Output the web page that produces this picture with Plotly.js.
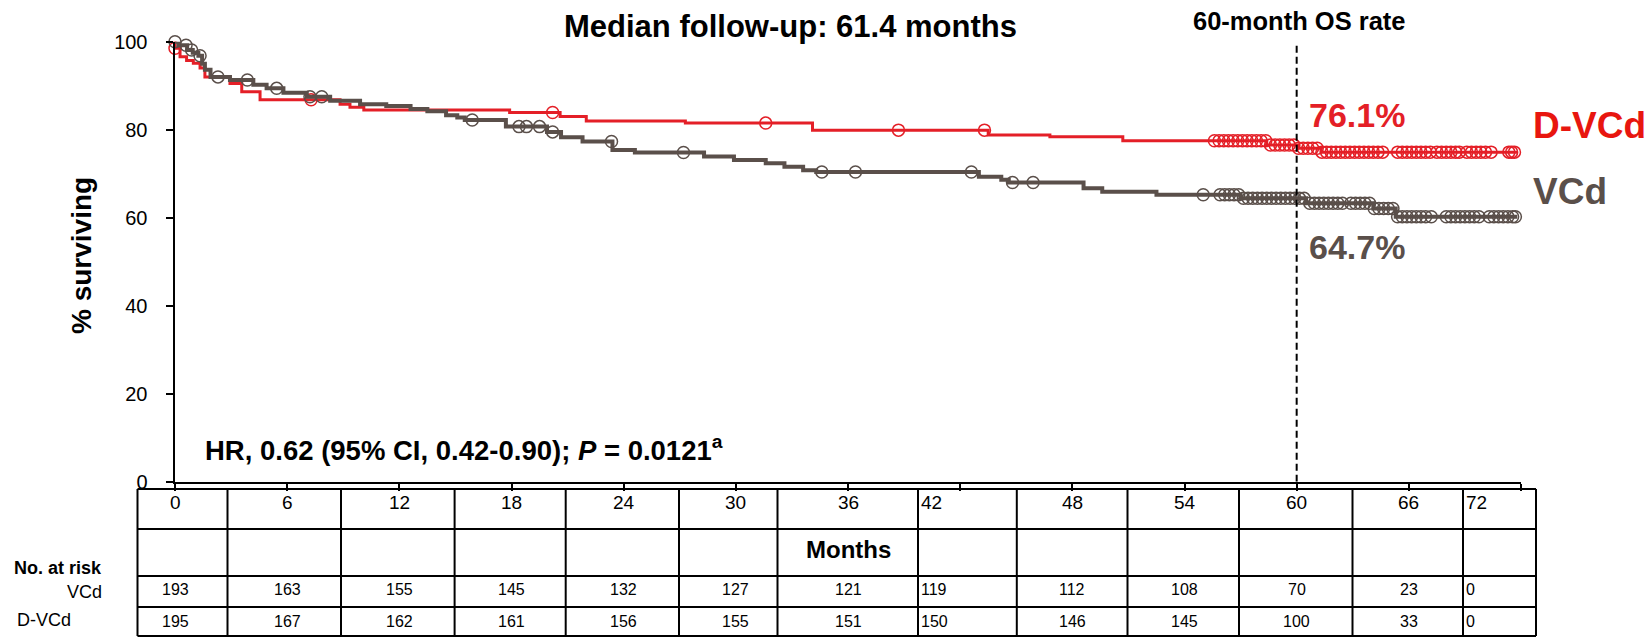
<!DOCTYPE html>
<html>
<head>
<meta charset="utf-8">
<script src="https://cdn.plot.ly/plotly-3.0.1.min.js"></script>
<style>
  html, body { margin: 0; padding: 0; background: #fff; }
  #chart { width: 1651px; height: 637px; }
</style>
</head>
<body>
<div id="chart"></div>
<script>
// ---------------- DATA ----------------
const months = [0, 6, 12, 18, 24, 30, 36, 42, 48, 54, 60, 66, 72];
const atRiskVCd = [193, 163, 155, 145, 132, 127, 121, 119, 112, 108, 70, 23, 0];
const atRiskDVCd = [195, 167, 162, 161, 156, 155, 151, 150, 146, 145, 100, 33, 0];

// VCd Kaplan-Meier steps (event time in months, % surviving after the step)
const vcdTimes = [0.18, 0.65, 0.95, 1.25, 1.45, 1.6, 1.9, 2.94, 4.19, 4.9, 5.8, 7.05, 8.3, 9.9, 11.3, 12.6, 13.5, 14.5, 15.1, 15.5, 17.7, 19.9, 20.65, 21.8, 23.4, 24.6, 28.3, 29.9, 31.6, 32.6, 33.6, 34.3, 43.0, 44.2, 44.6, 48.6, 49.6, 52.5, 57.0, 60.5, 64.1, 65.3];
const vcdSurv  = [99.2, 98.1, 97.5, 96.8, 95.0, 93.6, 92.0, 91.3, 90.2, 89.4, 88.4, 87.5, 86.6, 85.8, 85.4, 84.7, 84.2, 83.3, 82.8, 82.2, 80.7, 79.5, 78.3, 77.3, 75.4, 74.8, 73.9, 73.1, 72.4, 71.6, 70.8, 70.4, 69.3, 68.6, 68.0, 66.7, 65.9, 65.2, 64.4, 63.3, 62.1, 60.2];
const vcdEnd = 71.8;
const vcdCensor = [0, 0.59, 0.89, 1.34, 2.3, 3.87, 5.44, 7.22, 7.85, 15.9, 18.4, 18.8, 19.5, 20.2, 23.35, 27.2, 34.6, 36.4, 42.6, 44.8, 45.9, 55.0,
  55.9, 56.15, 56.4, 56.65, 56.9, 57.15, 57.4, 57.65, 57.9, 58.15, 58.4, 58.65, 58.9, 59.15, 59.4, 59.65, 59.9, 60.15, 60.4,
  60.7, 60.95, 61.2, 61.45, 61.7, 61.95, 62.2, 62.45, 62.9, 63.15, 63.4, 63.65, 63.9, 64.15, 64.4, 64.65, 64.9, 65.15,
  65.4, 65.65, 65.9, 66.15, 66.4, 66.65, 66.9, 67.2, 68.0, 68.25, 68.5, 68.75, 69.0, 69.25, 69.5, 69.75,
  70.3, 70.55, 70.8, 71.05, 71.3, 71.55, 71.7];

// D-VCd Kaplan-Meier steps
const dvcdTimes = [0, 0.27, 0.62, 0.98, 1.34, 1.6, 2.94, 3.57, 4.55, 8.83, 9.36, 10.1, 17.9, 20.6, 22.0, 27.3, 34.1, 43.5, 46.8, 50.7, 58.4, 60.1, 61.3];
const dvcdSurv  = [98.5, 96.6, 95.7, 95.1, 94.0, 92.0, 90.5, 88.6, 86.8, 85.8, 85.1, 84.5, 83.9, 83.0, 82.0, 81.5, 79.9, 78.8, 78.4, 77.5, 76.5, 75.8, 74.9];
const dvcdEnd = 71.8;
const dvcdCensor = [0, 7.28, 20.2, 31.6, 38.7, 43.3,
  55.6, 55.85, 56.1, 56.35, 56.6, 56.85, 57.1, 57.35, 57.6, 57.85, 58.1, 58.35, 58.6, 58.85, 59.1, 59.35, 59.6, 59.85,
  60.1, 60.35, 60.6, 60.85, 61.1, 61.35, 61.6, 61.85, 62.1, 62.35, 62.6, 62.85, 63.1, 63.35, 63.6, 63.85, 64.1, 64.35, 64.6,
  65.4, 65.65, 65.9, 66.15, 66.4, 66.65, 66.9, 67.15,
  67.5, 67.75, 68.0, 68.25, 68.5, 68.7,
  69.1, 69.35, 69.6, 69.85, 70.1, 70.4,
  71.35, 71.5, 71.65];

const rate60VCd = '64.7%';
const rate60DVCd = '76.1%';

// ---------------- HELPERS ----------------
const W = 1651, H = 637;
const ML = 175, MR = 130;
const RED = '#E41F27', GRAY = '#5A4F4A';
const FONT = 'Liberation Sans, Arial, sans-serif';
// paper coords are relative to the plot area (inside margins)
const px = x => (x - ML) / (W - ML - MR);
const py = y => 1 - y / H;

function stepCurve(times, surv, end) {
  const x = [0], y = [100];
  for (let i = 0; i < times.length; i++) { x.push(times[i]); y.push(surv[i]); }
  x.push(end); y.push(surv[surv.length - 1]);
  return { x, y };
}
function survAt(times, surv, t) {
  let v = 100;
  for (let i = 0; i < times.length; i++) if (times[i] <= t) v = surv[i];
  return v;
}

const vcdCurve = stepCurve(vcdTimes, vcdSurv, vcdEnd);
const dvcdCurve = stepCurve(dvcdTimes, dvcdSurv, dvcdEnd);

const traces = [
  { x: dvcdCurve.x, y: dvcdCurve.y, mode: 'lines', line: { shape: 'hv', color: RED, width: 3 }, cliponaxis: false, hoverinfo: 'skip', name: 'D-VCd' },
  { x: dvcdCensor, y: dvcdCensor.map(t => survAt(dvcdTimes, dvcdSurv, t)), mode: 'markers',
    marker: { symbol: 'circle-open', size: 12, color: RED, line: { width: 1.5, color: RED } }, cliponaxis: false, hoverinfo: 'skip' },
  { x: vcdCurve.x, y: vcdCurve.y, mode: 'lines', line: { shape: 'hv', color: GRAY, width: 4 }, cliponaxis: false, hoverinfo: 'skip', name: 'VCd' },
  { x: vcdCensor, y: vcdCensor.map(t => survAt(vcdTimes, vcdSurv, t)), mode: 'markers',
    marker: { symbol: 'circle-open', size: 12, color: GRAY, line: { width: 1.5, color: GRAY } }, cliponaxis: false, hoverinfo: 'skip' }
];

// ---------------- TABLE (layout geometry) ----------------
const tableRowsY = [489, 529, 576, 607, 636];
const tableColsX = [137.5, 227.5, 341, 454.6, 565.7, 679, 777.5, 918, 1016.8, 1127.5, 1239, 1352.5, 1463, 1536];
const leftAligned = { 42: 918, 72: 1463 };
const shapes = [];
tableRowsY.forEach(y => shapes.push({ type: 'line', xref: 'paper', yref: 'paper', x0: px(tableColsX[0]), x1: px(tableColsX[tableColsX.length - 1]), y0: py(y), y1: py(y), line: { color: '#000', width: 2 } }));
tableColsX.forEach(x => shapes.push({ type: 'line', xref: 'paper', yref: 'paper', x0: px(x), x1: px(x), y0: py(tableRowsY[0]), y1: py(tableRowsY[tableRowsY.length - 1]), line: { color: '#000', width: 2 } }));
// 60-month dashed reference line
shapes.push({ type: 'line', xref: 'x', yref: 'y', x0: 60, x1: 60, y0: 0, y1: 100, line: { color: '#000', width: 2, dash: '7px,4px' } });

const annotations = [];
function addText(text, x, y, opts) {
  annotations.push(Object.assign({ text, x, y, xref: 'paper', yref: 'paper', showarrow: false, xanchor: 'center', yanchor: 'middle' }, opts));
}
months.forEach((m, i) => {
  const la = leftAligned[m];
  const xo = la !== undefined ? { x: px(la + 1), xref: 'paper', xanchor: 'left' } : { x: m, xref: 'x', xanchor: 'center' };
  addText(String(m), 0, py(503), Object.assign({ font: { family: FONT, size: 19, color: '#000' } }, xo));
  addText(String(atRiskVCd[i]), 0, py(589), Object.assign({ font: { family: FONT, size: 16, color: '#000' } }, xo));
  addText(String(atRiskDVCd[i]), 0, py(621), Object.assign({ font: { family: FONT, size: 16, color: '#000' } }, xo));
});
addText('<b>Months</b>', 36, py(549), { xref: 'x', font: { family: FONT, size: 24, color: '#000' } });
addText('<b>No. at risk</b>', px(104), py(568), { xanchor: 'right', font: { family: FONT, size: 18, color: '#000' } });
addText('VCd', px(104), py(592), { xanchor: 'right', font: { family: FONT, size: 18, color: '#000' } });
addText('D-VCd', px(15), py(620), { xanchor: 'left', font: { family: FONT, size: 18, color: '#000' } });

// Chart texts
addText('<b>Median follow-up: 61.4 months</b>', px(790), py(26), { font: { family: FONT, size: 31, color: '#000' } });
addText('<b>60-month OS rate</b>', px(1299), py(21), { font: { family: FONT, size: 25.5, color: '#000' } });
addText('<b>' + rate60DVCd + '</b>', px(1307), py(115), { xanchor: 'left', font: { family: FONT, size: 34, color: RED } });
addText('<b>' + rate60VCd + '</b>', px(1307), py(247), { xanchor: 'left', font: { family: FONT, size: 34, color: GRAY } });
addText('<b>D-VCd</b>', px(1531), py(125), { xanchor: 'left', font: { family: FONT, size: 37, color: '#E8160F' } });
addText('<b>VCd</b>', px(1531), py(191), { xanchor: 'left', font: { family: FONT, size: 37, color: GRAY } });
addText('<b>HR, 0.62 (95% CI, 0.42-0.90); <i>P</i> = 0.0121<sup>a</sup></b>', px(203), py(449), { xanchor: 'left', font: { family: FONT, size: 27.5, color: '#000' } });
addText('<b>% surviving</b>', px(82), py(256), { textangle: -90, font: { family: FONT, size: 28, color: '#000' } });

const layout = {
  width: W, height: H,
  margin: { l: ML, r: MR, t: 0, b: 0, pad: 0 },
  paper_bgcolor: '#fff', plot_bgcolor: '#fff',
  showlegend: false,
  xaxis: {
    range: [0, 72], tickvals: months, showticklabels: false,
    showline: true, linecolor: '#000', linewidth: 2.5,
    ticks: 'outside', ticklen: 7, tickwidth: 2, tickcolor: '#000',
    showgrid: false, zeroline: false, fixedrange: true
  },
  yaxis: {
    range: [0, 100], domain: [1 - 481.7 / H, 1 - 41.7 / H],
    tickvals: [0, 20, 40, 60, 80, 100],
    showline: true, linecolor: '#000', linewidth: 2.5,
    ticks: 'outside', ticklen: 7, tickwidth: 2, tickcolor: '#000',
    tickfont: { family: FONT, size: 20, color: '#000' }, ticklabelstandoff: 14,
    showgrid: false, zeroline: false, fixedrange: true
  },
  shapes, annotations
};

Plotly.newPlot('chart', traces, layout, { staticPlot: true, displayModeBar: false });
</script>
</body>
</html>
